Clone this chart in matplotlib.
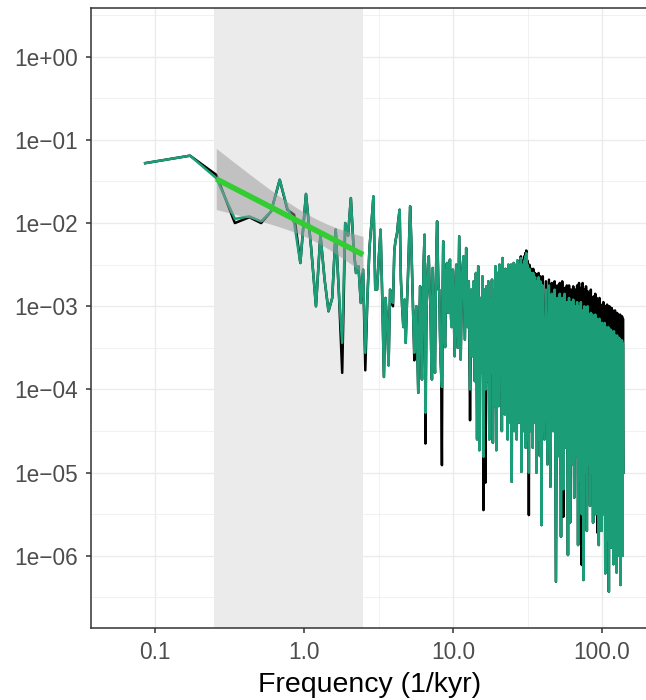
import numpy as np
import matplotlib
matplotlib.use("Agg")
import matplotlib.pyplot as plt
from matplotlib.ticker import FixedLocator, NullFormatter

plt.rcParams['font.family'] = ['Liberation Sans', 'DejaVu Sans']

# frequency grid (1/kyr): first 116 harmonics, then coarser steps in the dense part
DF = 1 / 11.64
freq_low = np.arange(1, 117) * DF
freq_h1 = np.arange(10.0, 40.0, 0.25)
freq_h2 = np.arange(40.0, 140.0, 1.0)

# log10 power
green_low = [
    -1.28, -1.19, -1.46, -1.95, -1.92, -1.98, -1.86, -1.48, -1.82, -2.0,
    -2.48, -1.65, -2.3, -3.0, -2.14, -2.68, -3.06, -2.9, -2.08, -2.88,
    -3.44, -2.0, -2.15, -1.7, -2.28, -2.6, -2.52, -2.96, -2.56, -3.56,
    -2.9, -2.3, -2.0, -1.68, -2.8,
    -2.8, -2.4, -2.08, -2.9, -3.85, -2.9, -3.2, -3.71, -2.8, -2.93,
    -2.96, -2.32, -2.2, -2.12, -1.96, -1.84, -2.68, -3.0, -3.25, -2.92,
    -3.44, -3.0, -2.64, -2.2, -1.8, -2.2, -2.68, -3.16, -3.56, -3.16,
    -3.0, -3.53, -4.04, -3.28, -2.76, -3.4, -3.88, -3.04, -2.44, -2.14,
    -4.28, -3.28, -2.68, -2.5, -2.4, -2.8, -2.96, -3.53, -3.88, -2.54,
    -3.04, -3.52, -3.8, -2.92, -2.32, -1.98, -2.44, -2.8, -2.8, -3.28,
    -3.64, -3.83, -3.97, -2.92, -2.22, -2.8, -3.4, -3.49, -2.92, -2.56,
    -2.48, -2.92, -3.08, -2.8, -2.5, -2.44, -2.92, -3.16, -3.25, -2.8,
    -2.56,
]
black_low = [
    -1.28, -1.19, -1.42, -2.0, -1.93, -2.0, -1.86, -1.48, -1.84, -1.9,
    -2.48, -1.65, -2.3, -3.0, -2.14, -2.68, -3.06, -2.9, -2.08, -2.88,
    -3.8, -2.0, -2.15, -1.7, -2.28, -2.6, -2.52, -2.96, -2.56, -3.77,
    -2.9, -2.3, -2.0, -1.68, -2.8,
    -2.8, -2.4, -2.08, -2.9, -3.85, -2.9, -3.2, -3.71, -2.8, -2.93,
    -3.0, -2.32, -2.2, -2.12, -1.96, -1.84, -2.68, -3.0, -3.25, -2.92,
    -3.44, -3.0, -2.64, -2.2, -1.8, -2.2, -2.68, -3.16, -3.65, -3.16,
    -3.0, -3.53, -4.04, -3.28, -2.76, -3.4, -3.88, -3.04, -2.44, -2.14,
    -4.65, -3.28, -2.68, -2.5, -2.4, -2.8, -2.96, -3.53, -3.88, -2.54,
    -3.04, -3.52, -3.8, -2.92, -2.32, -1.98, -2.44, -2.8, -2.8, -3.28,
    -3.64, -3.83, -4.91, -2.92, -2.22, -2.8, -3.4, -3.49, -2.92, -2.56,
    -2.48, -2.92, -3.08, -2.8, -2.5, -2.44, -2.92, -3.16, -3.25, -2.8,
    -2.56,
]
green_h1 = [
    -2.6, -3.6, -2.5, -3.5, -2.16, -3.64, -2.6, -2.4, -3.4, -2.3,
    -3.25, -2.7, -4.0, -2.8, -3.6, -2.7, -3.9, -2.6, -4.6, -2.52,
    -4.73, -2.9, -3.8, -2.64, -4.81, -2.8, -4.0, -2.76, -3.9, -2.7,
    -4.6, -2.9, -3.8, -2.68, -4.64, -2.8, -4.2, -2.52, -4.73, -2.6,
    -2.6, -4.2, -2.5, -3.8, -2.7, -4.5, -2.42, -3.6, -2.6, -4.3,
    -2.55, -3.9, -2.7, -4.6, -2.5, -3.7, -2.65, -4.4, -2.5, -5.11,
    -2.6, -3.9, -2.48, -4.5, -2.7, -4.1, -2.5, -4.6, -2.45, -3.8,
    -2.6, -4.4, -2.5, -4.2, -2.42, -4.99, -2.6, -3.9, -2.5, -4.5,
    -2.45, -4.0, -2.4, -4.7, -2.36, -4.2, -2.5, -4.6, -2.6, -5.0,
    -2.55, -4.1, -2.7, -4.5, -2.6, -3.9, -2.75, -4.7, -2.6, -4.2,
    -2.7, -4.4, -2.65, -4.0, -2.8, -5.0, -2.7, -4.3, -2.75, -4.6,
    -2.65, -4.1, -2.8, -4.8, -2.7, -4.4, -2.85, -5.63, -2.75, -4.5,
]
black_h1 = [
    -2.6, -3.6, -2.5, -3.5, -2.16, -3.64, -2.6, -2.4, -3.4, -2.3,
    -3.25, -2.7, -4.37, -2.8, -3.6, -2.7, -3.9, -2.6, -4.6, -2.52,
    -4.73, -2.9, -3.8, -2.64, -5.45, -2.8, -5.12, -2.76, -3.9, -2.7,
    -4.6, -2.9, -3.8, -2.68, -4.64, -2.8, -4.2, -2.52, -4.73, -2.6,
    -2.6, -4.2, -2.5, -3.8, -2.7, -4.5, -2.42, -3.6, -2.6, -4.3,
    -2.55, -3.9, -2.7, -4.6, -2.5, -3.7, -2.65, -4.4, -2.5, -5.11,
    -2.6, -3.9, -2.48, -4.5, -2.7, -4.1, -2.5, -4.6, -2.45, -3.8,
    -2.6, -4.4, -2.45, -4.2, -2.4, -4.99, -2.55, -3.9, -2.45, -4.5,
    -2.4, -4.0, -2.36, -4.7, -2.33, -4.2, -2.45, -4.6, -2.55, -5.51,
    -2.5, -4.1, -2.6, -4.5, -2.55, -3.9, -2.65, -4.7, -2.55, -4.2,
    -2.62, -4.4, -2.6, -4.0, -2.64, -5.0, -2.62, -4.3, -2.66, -4.6,
    -2.6, -4.1, -2.68, -4.8, -2.64, -4.4, -2.7, -5.63, -2.66, -4.5,
]
green_h2 = [
    -2.75, -4.6, -2.8, -4.9, -2.75, -5.17, -2.85, -4.5, -2.8, -6.31,
    -2.9, -4.8, -2.85, -5.77, -2.9, -5.2, -2.85, -4.7, -2.95, -5.99,
    -2.9, -5.6, -2.95, -4.9, -2.92, -5.3, -3.0, -4.8, -2.95, -5.87,
    -3.0, -5.1, -2.95, -5.5, -3.05, -6.29, -3.0, -5.0, -3.05, -5.7,
    -3.0, -4.9, -3.1, -5.4, -3.08, -5.0, -3.1, -5.6, -3.15, -5.2,
    -3.1, -5.5, -3.15, -5.3, -3.2, -5.87, -3.15, -5.1, -3.2, -5.7,
    -3.2, -5.2, -3.25, -5.5, -3.2, -6.21, -3.25, -5.3, -3.3, -5.8,
    -3.25, -6.43, -3.3, -5.4, -3.28, -5.9, -3.3, -5.5, -3.35, -6.1,
    -3.3, -5.6, -3.35, -5.9, -3.4, -6.2, -3.35, -5.5, -3.4, -6.0,
    -3.38, -5.7, -3.4, -6.35, -3.42, -5.8, -3.41, -6.0, -3.45, -5.0,
]
black_h2 = [
    -2.64, -4.6, -2.7, -4.9, -2.68, -5.17, -2.72, -4.5, -2.7, -6.31,
    -2.75, -4.8, -2.72, -5.77, -2.7, -5.53, -2.78, -4.7, -2.75, -5.99,
    -2.75, -5.6, -2.8, -4.9, -2.76, -5.3, -2.8, -4.8, -2.75, -5.87,
    -2.72, -5.1, -2.78, -6.11, -2.72, -6.29, -2.8, -5.0, -2.76, -5.7,
    -2.82, -4.9, -2.85, -5.4, -2.8, -5.0, -2.9, -5.6, -2.88, -5.2,
    -2.85, -5.5, -2.9, -5.72, -2.95, -5.87, -2.9, -5.1, -2.98, -5.7,
    -3.0, -5.2, -2.95, -5.5, -3.0, -6.21, -3.0, -5.3, -2.98, -5.8,
    -3.02, -6.43, -3.0, -5.4, -3.05, -5.9, -3.02, -5.5, -3.05, -6.1,
    -3.08, -5.6, -3.05, -5.9, -3.1, -6.2, -3.08, -5.5, -3.1, -6.0,
    -3.12, -5.7, -3.1, -6.35, -3.14, -5.8, -3.12, -6.0, -3.15, -5.0,
]

# shaded band and the fitted power law (log10 units)
band_lo, band_hi = 0.25, 2.5
fit_slope = -0.924
fit_icpt = -2.014
fit_sd = 0.35

freq = np.concatenate([freq_low, freq_h1, freq_h2])
green = 10 ** np.concatenate([green_low, green_h1, green_h2])
black = 10 ** np.concatenate([black_low, black_h1, black_h2])

# confidence ribbon like geom_smooth(method="lm") over the points in the band
lx = np.log10(freq[(freq >= band_lo) & (freq <= band_hi)])
n = len(lx)
sxx = np.sum((lx - lx.mean()) ** 2)
xs = np.linspace(lx.min(), lx.max(), 100)
ys = fit_slope * xs + fit_icpt
se = fit_sd * np.sqrt(1 / n + (xs - lx.mean()) ** 2 / sxx)
t = 2.06

fig = plt.figure(figsize=(6.46, 7.0), dpi=100)
ax = fig.add_axes([0.1416, 0.1033, 0.8604, 0.8853])

ax.axvspan(band_lo, band_hi, color='#EBEBEB', zorder=1, lw=0)
ax.plot(freq, black, color='black', lw=1.8, zorder=2)
ax.plot(freq, green, color='#1B9E77', lw=1.8, zorder=3)
ax.fill_between(10 ** xs, 10 ** (ys - t * se), 10 ** (ys + t * se),
                color='#999999', alpha=0.5, lw=0, zorder=4)
ax.plot(10 ** xs, 10 ** ys, color='#32CD32', lw=4, solid_capstyle='butt', zorder=5)

ax.set_xscale('log')
ax.set_yscale('log')
ax.set_xlim(0.0375, 201)
ax.set_ylim(10 ** -6.863, 10 ** 0.585)

xt = [0.1, 1, 10, 100]
ax.xaxis.set_major_locator(FixedLocator(xt))
ax.set_xticklabels(['0.1', '1.0', '10.0', '100.0'])
ax.xaxis.set_minor_locator(FixedLocator([10 ** -0.5, 10 ** 0.5, 10 ** 1.5]))
ax.xaxis.set_minor_formatter(NullFormatter())
yt = [10.0 ** e for e in range(0, -7, -1)]
ax.yaxis.set_major_locator(FixedLocator(yt))
ax.set_yticklabels(['1e+00'] + ['1e\u22120%d' % e for e in range(1, 7)])
ax.yaxis.set_minor_locator(FixedLocator([10 ** (e - 0.5) for e in range(1, -7, -1)]))
ax.yaxis.set_minor_formatter(NullFormatter())

ax.grid(which='major', color='#EBEBEB', lw=1.0, zorder=0)
ax.grid(which='minor', color='#EBEBEB', lw=0.5, zorder=0)
ax.set_axisbelow(True)

for sp in ax.spines.values():
    sp.set_color('#333333')
    sp.set_linewidth(1.1)
ax.tick_params(which='major', length=3.5, width=1.1, color='#333333',
               labelsize=16.3, labelcolor='#4D4D4D')
ax.tick_params(axis='x', which='major', pad=6)
ax.tick_params(axis='y', which='major', pad=6)
ax.tick_params(which='minor', length=0)

ax.set_xlabel('Frequency (1/kyr)', fontsize=20.5, color='black', labelpad=6)

fig.savefig('out.png', dpi=100)
